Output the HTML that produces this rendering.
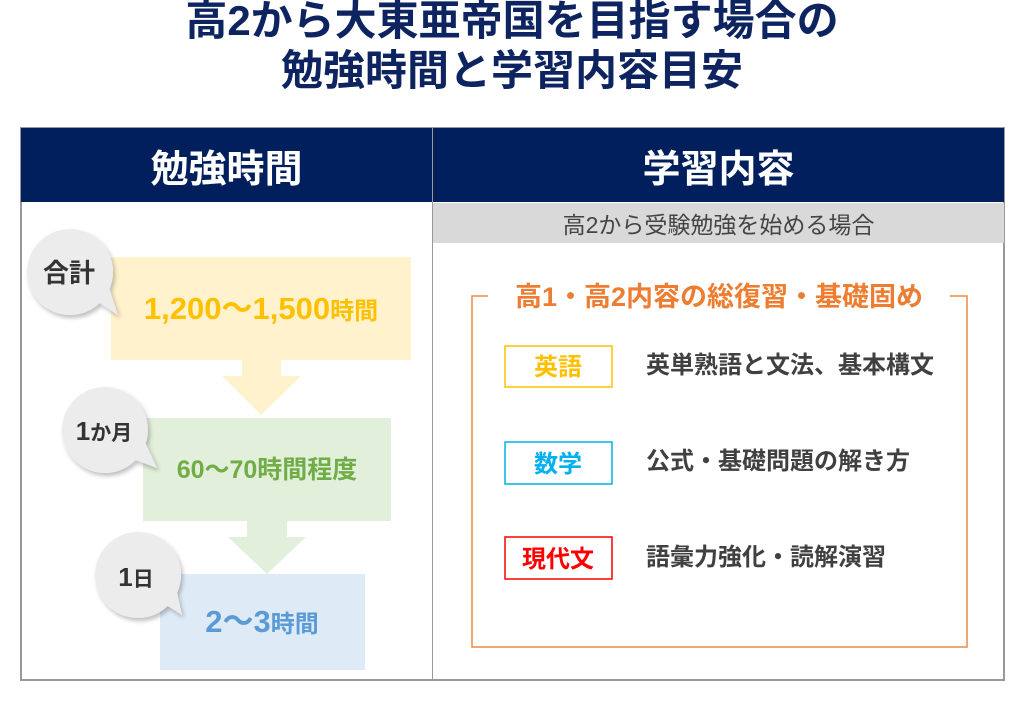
<!DOCTYPE html>
<html><head><meta charset="utf-8"><style>
*{margin:0;padding:0;box-sizing:border-box}
body{width:1024px;height:704px;background:#fff;position:relative;overflow:hidden;font-family:"Liberation Sans","Noto Sans CJK JP",sans-serif;font-weight:bold}
.a{position:absolute}
.t{color:#0d2460;font-size:42px;text-align:center;width:1024px;left:0;line-height:50px}
.c{display:flex;align-items:center;justify-content:center}
</style></head><body>
<div class="a t" style="top:-4px">高2から大東亜帝国を目指す場合の</div>
<div class="a t" style="top:46px">勉強時間と学習内容目安</div>
<div class="a" style="left:20px;top:127px;width:985px;height:554px;border:2px solid #999"></div>
<div class="a c" style="left:21px;top:128px;width:411px;height:74px;background:#001f5c;color:#fff;font-size:38px">勉強時間</div>
<div class="a c" style="left:433px;top:128px;width:571px;height:74px;background:#001f5c;color:#fff;font-size:38px">学習内容</div>
<div class="a" style="left:432px;top:128px;width:1px;height:552px;background:#999"></div>
<div class="a c" style="left:433px;top:203px;width:571px;height:40px;background:#d9d9d9;color:#444;font-size:23px;font-weight:normal">高2から受験勉強を始める場合</div>

<svg class="a" style="left:0;top:0" width="1024" height="704">
<defs><filter id="s" x="-20%" y="-20%" width="150%" height="150%"><feDropShadow dx="2" dy="3" stdDeviation="2" flood-color="#000" flood-opacity="0.25"/></filter></defs>
<rect x="111" y="257" width="300" height="103" fill="#fff2cc"/>
<polygon points="242,360 281,360 281,376 301,376 261,415 222,376 242,376" fill="#fff2cc"/>
<rect x="143" y="418" width="248" height="103" fill="#e2efda"/>
<polygon points="247,521 287,521 287,537 306,537 267,574 228,537 247,537" fill="#e2efda"/>
<rect x="160" y="574" width="205" height="96" fill="#deebf7"/>
<g fill="#ececec" filter="url(#s)">
<circle cx="70" cy="272" r="43"/><polygon points="95,300 118,315 108,285"/>
<circle cx="105" cy="430" r="43"/><polygon points="130,458 157,468 145,442"/>
<circle cx="138" cy="575" r="43"/><polygon points="163,603 182,615 176,588"/>
</g>
<g font-weight="bold" font-family="Liberation Sans,Noto Sans CJK JP,sans-serif" text-anchor="middle">
<text x="69" y="282" font-size="26" fill="#333">合計</text>
<text x="104" y="440" font-size="26" fill="#333">1<tspan font-size="21">か月</tspan></text>
<text x="136" y="586" font-size="26" fill="#333">1<tspan font-size="21">日</tspan></text>
<text x="261" y="319" font-size="31" fill="#ffc000">1,200～1,500<tspan font-size="24">時間</tspan></text>
<text x="267" y="478" font-size="25" fill="#70ad47">60～70時間程度</text>
<text x="262" y="632" font-size="31" fill="#5b9bd5">2～3<tspan font-size="24">時間</tspan></text>
</g>
<polyline points="488,296 472,296 472,647 967,647 967,296 950,296" fill="none" stroke="#ed8a45" stroke-width="1.5"/>
<text x="719" y="306" text-anchor="middle" font-size="27" fill="#ed7d31" font-weight="bold" font-family="Liberation Sans,Noto Sans CJK JP,sans-serif">高1・高2内容の総復習・基礎固め</text>
<rect x="505" y="346" width="107" height="41" fill="none" stroke="#ffc000" stroke-width="1.5"/>
<rect x="505" y="442" width="107" height="42" fill="none" stroke="#00b0f0" stroke-width="1.5"/>
<rect x="505" y="537" width="107" height="42" fill="none" stroke="#ff0000" stroke-width="1.5"/>
<g font-size="24" font-weight="bold" text-anchor="middle" font-family="Liberation Sans,Noto Sans CJK JP,sans-serif">
<text x="558" y="375" fill="#ffc000">英語</text>
<text x="558" y="472" fill="#00b0f0">数学</text>
<text x="558" y="567" fill="#ff0000">現代文</text>
</g>
<g font-size="24" fill="#404040" font-weight="bold" font-family="Liberation Sans,Noto Sans CJK JP,sans-serif">
<text x="646" y="373">英単熟語と文法、基本構文</text>
<text x="646" y="469">公式・基礎問題の解き方</text>
<text x="646" y="565">語彙力強化・読解演習</text>
</g>
</svg>
</body></html>
